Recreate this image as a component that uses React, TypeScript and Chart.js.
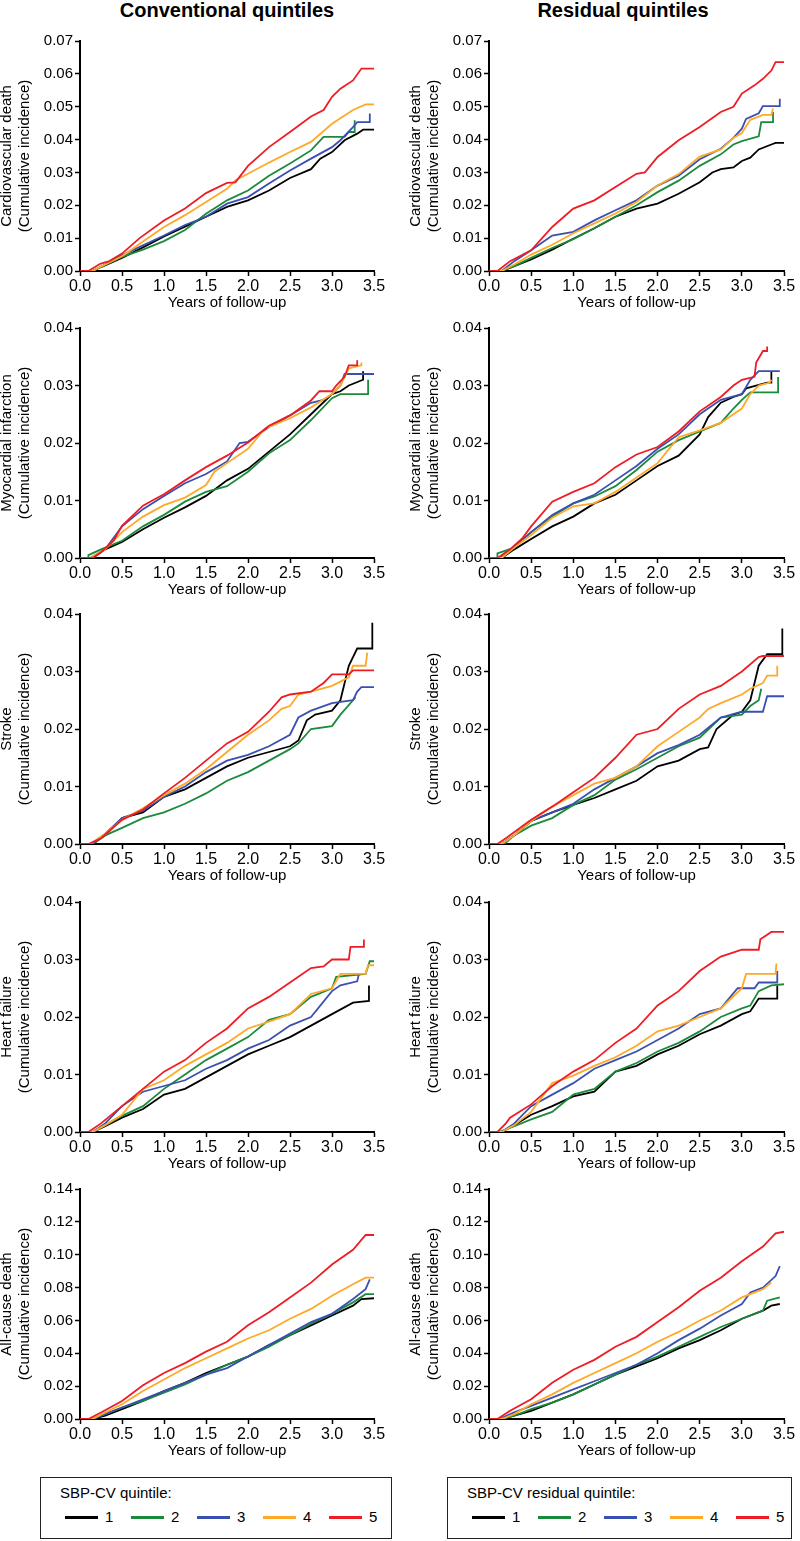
import React, { useEffect, useRef } from "react";
import { Chart, registerables } from "chart.js";
Chart.register(...registerables);

type Pt = [number, number];

// ---------- labels / ticks ----------
const QUINTILES = ["1", "2", "3", "4", "5"];
const COLORS = ["#000000", "#1b8a3a", "#3a50b0", "#ffa928", "#ee1c25"];
const X_TICKS = [0, 0.5, 1.0, 1.5, 2.0, 2.5, 3.0, 3.5];
const Y_TICKS_07 = [0, 0.01, 0.02, 0.03, 0.04, 0.05, 0.06, 0.07];
const Y_TICKS_04 = [0, 0.01, 0.02, 0.03, 0.04];
const Y_TICKS_14 = [0, 0.02, 0.04, 0.06, 0.08, 0.1, 0.12, 0.14];
const X_TITLE = "Years of follow-up";
const COL_TITLES = ["Conventional quintiles", "Residual quintiles"];
const LEGEND_TITLES = ["SBP-CV quintile:", "SBP-CV residual quintile:"];
const Y_LABELS = [
  ["Cardiovascular death", "(Cumulative incidence)"],
  ["Myocardial infarction", "(Cumulative incidence)"],
  ["Stroke", "(Cumulative incidence)"],
  ["Heart failure", "(Cumulative incidence)"],
  ["All-cause death", "(Cumulative incidence)"],
];

// ---------- data: [years, cumulative incidence], quintiles 1..5 ----------
const cvdConv: Pt[][] = [
  [[0,0],[0.15,0],[0.25,0.0012],[0.5,0.004],[0.75,0.0072],[1.0,0.0105],[1.25,0.0135],[1.5,0.0165],[1.75,0.0195],[2.0,0.0215],[2.25,0.0245],[2.5,0.0283],[2.75,0.031],[2.86,0.0342],[3.0,0.0362],[3.15,0.0398],[3.3,0.0418],[3.37,0.043],[3.5,0.043]],
  [[0,0],[0.15,0],[0.25,0.0012],[0.5,0.0043],[0.75,0.0065],[1.0,0.0091],[1.25,0.0125],[1.5,0.0174],[1.75,0.0215],[2.0,0.0245],[2.25,0.029],[2.5,0.0327],[2.75,0.0367],[2.9,0.0408],[3.15,0.0408],[3.2,0.0423],[3.27,0.0423],[3.27,0.0459]],
  [[0,0],[0.15,0],[0.3,0.002],[0.5,0.0048],[0.75,0.0078],[1.0,0.0108],[1.25,0.014],[1.5,0.0165],[1.75,0.0205],[2.0,0.0225],[2.25,0.0266],[2.5,0.0306],[2.75,0.0342],[3.0,0.0377],[3.1,0.0398],[3.25,0.0438],[3.3,0.0453],[3.45,0.0453],[3.45,0.0479]],
  [[0,0],[0.15,0],[0.3,0.002],[0.5,0.0045],[0.75,0.009],[1.0,0.0134],[1.25,0.017],[1.5,0.021],[1.75,0.025],[1.85,0.0276],[2.0,0.0296],[2.25,0.033],[2.5,0.0362],[2.75,0.0393],[3.0,0.0448],[3.25,0.049],[3.4,0.0507],[3.5,0.0507]],
  [[0,0],[0.1,0],[0.24,0.0022],[0.35,0.003],[0.5,0.0053],[0.71,0.01],[1.0,0.0154],[1.25,0.019],[1.5,0.0237],[1.75,0.0268],[1.85,0.027],[2.0,0.032],[2.25,0.0377],[2.5,0.0423],[2.75,0.047],[2.9,0.049],[3.0,0.053],[3.1,0.0555],[3.25,0.058],[3.35,0.0616],[3.5,0.0616]],
];
const cvdResid: Pt[][] = [
  [[0,0],[0.15,0],[0.3,0.0015],[0.5,0.0035],[0.75,0.0065],[1.0,0.0098],[1.25,0.013],[1.5,0.0165],[1.75,0.019],[2.0,0.0205],[2.25,0.0235],[2.5,0.027],[2.65,0.03],[2.75,0.031],[2.9,0.0315],[3.0,0.0335],[3.1,0.0345],[3.2,0.037],[3.35,0.0385],[3.4,0.039],[3.5,0.039]],
  [[0,0],[0.15,0],[0.3,0.0015],[0.5,0.004],[0.75,0.007],[1.0,0.0097],[1.25,0.013],[1.5,0.0165],[1.75,0.02],[2.0,0.024],[2.25,0.0275],[2.5,0.032],[2.75,0.0355],[2.9,0.0385],[3.0,0.0395],[3.2,0.041],[3.23,0.0453],[3.37,0.0453],[3.37,0.0484]],
  [[0,0],[0.15,0],[0.3,0.003],[0.5,0.0063],[0.75,0.0108],[1.0,0.0119],[1.25,0.0154],[1.5,0.0185],[1.75,0.0215],[2.0,0.026],[2.25,0.029],[2.5,0.034],[2.75,0.0372],[2.9,0.0405],[3.0,0.0433],[3.05,0.0463],[3.2,0.048],[3.25,0.0502],[3.45,0.0502],[3.45,0.0524]],
  [[0,0],[0.15,0],[0.3,0.002],[0.5,0.005],[0.75,0.008],[1.0,0.0115],[1.25,0.0145],[1.5,0.0175],[1.75,0.021],[2.0,0.026],[2.25,0.0295],[2.5,0.0348],[2.75,0.037],[2.9,0.0405],[3.0,0.042],[3.1,0.046],[3.25,0.0475],[3.35,0.0475],[3.37,0.0495]],
  [[0,0],[0.1,0],[0.25,0.003],[0.5,0.0063],[0.75,0.0134],[1.0,0.019],[1.25,0.0215],[1.5,0.0256],[1.75,0.0296],[1.85,0.03],[2.0,0.0347],[2.25,0.0398],[2.5,0.0438],[2.75,0.0484],[2.9,0.05],[3.0,0.054],[3.15,0.0565],[3.25,0.0585],[3.35,0.061],[3.4,0.0636],[3.5,0.0636]],
];
const miConv: Pt[][] = [
  [[0,0],[0.15,0],[0.3,0.0015],[0.5,0.0028],[0.75,0.005],[1.0,0.007],[1.25,0.0088],[1.5,0.0108],[1.75,0.0135],[2.0,0.0155],[2.25,0.0185],[2.5,0.0215],[2.75,0.025],[3.0,0.0285],[3.1,0.029],[3.2,0.03],[3.37,0.031],[3.37,0.0325]],
  [[0,0],[0.1,0],[0.1,0.0005],[0.25,0.0015],[0.5,0.003],[0.75,0.0055],[1.0,0.0075],[1.25,0.0098],[1.5,0.0115],[1.75,0.0125],[2.0,0.015],[2.25,0.0182],[2.5,0.0205],[2.75,0.024],[3.0,0.0278],[3.1,0.0285],[3.43,0.0285],[3.43,0.031]],
  [[0,0],[0.12,0],[0.3,0.0015],[0.5,0.0055],[0.75,0.0085],[1.0,0.0108],[1.25,0.013],[1.5,0.0146],[1.75,0.0168],[1.9,0.02],[2.0,0.0202],[2.25,0.0228],[2.5,0.0248],[2.75,0.027],[2.9,0.0275],[3.0,0.0285],[3.1,0.03],[3.15,0.032],[3.5,0.032]],
  [[0,0],[0.12,0],[0.3,0.0015],[0.5,0.0045],[0.75,0.0072],[1.0,0.0092],[1.25,0.0105],[1.5,0.0127],[1.6,0.015],[1.75,0.0165],[2.0,0.019],[2.2,0.0225],[2.5,0.0243],[2.75,0.0262],[3.0,0.0285],[3.1,0.03],[3.2,0.033],[3.35,0.0335],[3.35,0.034]],
  [[0,0],[0.15,0],[0.25,0.001],[0.4,0.003],[0.5,0.0056],[0.75,0.0091],[0.85,0.0099],[1.0,0.0111],[1.25,0.0135],[1.5,0.0158],[1.75,0.0178],[2.0,0.0201],[2.25,0.023],[2.5,0.0248],[2.75,0.0274],[2.85,0.029],[3.0,0.029],[3.05,0.03],[3.15,0.0315],[3.2,0.0335],[3.3,0.0335],[3.3,0.0344]],
];
const miResid: Pt[][] = [
  [[0,0],[0.15,0],[0.3,0.0015],[0.5,0.0033],[0.75,0.0055],[1.0,0.0072],[1.25,0.0095],[1.5,0.011],[1.75,0.0135],[2.0,0.016],[2.25,0.0178],[2.5,0.0215],[2.6,0.0245],[2.75,0.027],[2.9,0.028],[3.0,0.0285],[3.05,0.0295],[3.3,0.0305],[3.35,0.0305],[3.35,0.0325]],
  [[0,0],[0.1,0],[0.1,0.0008],[0.3,0.0018],[0.5,0.0045],[0.75,0.0072],[1.0,0.0095],[1.25,0.0107],[1.5,0.0125],[1.75,0.0153],[2.0,0.0185],[2.25,0.0205],[2.5,0.022],[2.75,0.0235],[2.9,0.026],[3.0,0.0275],[3.1,0.0288],[3.43,0.0288],[3.43,0.0315]],
  [[0,0],[0.12,0],[0.3,0.002],[0.5,0.0045],[0.75,0.0075],[1.0,0.0095],[1.25,0.011],[1.5,0.0135],[1.75,0.016],[2.0,0.019],[2.25,0.0215],[2.5,0.025],[2.75,0.0275],[3.0,0.0285],[3.1,0.031],[3.2,0.0325],[3.45,0.0325]],
  [[0,0],[0.15,0],[0.3,0.0018],[0.5,0.004],[0.75,0.007],[1.0,0.009],[1.25,0.0095],[1.5,0.0115],[1.75,0.014],[2.0,0.0165],[2.25,0.021],[2.5,0.0222],[2.75,0.0235],[2.9,0.025],[3.0,0.026],[3.1,0.0285],[3.2,0.03],[3.33,0.0305],[3.35,0.031]],
  [[0,0],[0.1,0],[0.25,0.0015],[0.4,0.0035],[0.5,0.0055],[0.75,0.0098],[1.0,0.0115],[1.25,0.013],[1.5,0.0158],[1.75,0.018],[2.0,0.0193],[2.25,0.022],[2.5,0.0255],[2.75,0.028],[2.9,0.03],[3.0,0.031],[3.15,0.0315],[3.17,0.034],[3.25,0.036],[3.3,0.036],[3.3,0.0368]],
];
const strokeConv: Pt[][] = [
  [[0,0],[0.15,0],[0.3,0.0015],[0.5,0.0045],[0.75,0.0055],[1.0,0.0082],[1.25,0.0095],[1.5,0.0115],[1.75,0.0135],[2.0,0.015],[2.25,0.016],[2.5,0.017],[2.6,0.018],[2.7,0.0215],[2.8,0.0225],[3.0,0.0232],[3.1,0.025],[3.2,0.031],[3.25,0.0325],[3.3,0.034],[3.48,0.034],[3.48,0.0385]],
  [[0,0],[0.15,0],[0.3,0.0015],[0.5,0.0028],[0.75,0.0045],[1.0,0.0055],[1.25,0.007],[1.5,0.0088],[1.75,0.011],[2.0,0.0125],[2.25,0.0145],[2.5,0.0165],[2.6,0.0175],[2.75,0.02],[3.0,0.0205],[3.1,0.0225],[3.25,0.025],[3.28,0.0255]],
  [[0,0],[0.15,0],[0.3,0.0018],[0.5,0.0045],[0.75,0.0058],[1.0,0.0082],[1.25,0.01],[1.5,0.0125],[1.75,0.0145],[2.0,0.0155],[2.25,0.017],[2.5,0.019],[2.6,0.022],[2.75,0.0232],[3.0,0.0245],[3.25,0.025],[3.3,0.0265],[3.35,0.0273],[3.5,0.0273]],
  [[0,0],[0.12,0],[0.3,0.0018],[0.5,0.0042],[0.75,0.0062],[1.0,0.0085],[1.25,0.0105],[1.5,0.013],[1.75,0.016],[2.0,0.019],[2.25,0.0215],[2.4,0.0235],[2.5,0.024],[2.6,0.026],[2.75,0.0265],[3.0,0.0275],[3.2,0.029],[3.25,0.031],[3.4,0.031],[3.42,0.0333]],
  [[0,0],[0.1,0],[0.25,0.001],[0.5,0.0042],[0.75,0.006],[1.0,0.0088],[1.25,0.0115],[1.5,0.0145],[1.75,0.0175],[2.0,0.0195],[2.25,0.023],[2.4,0.0255],[2.5,0.026],[2.75,0.0265],[2.9,0.028],[3.0,0.0295],[3.2,0.0295],[3.25,0.0302],[3.5,0.0302]],
];
const strokeResid: Pt[][] = [
  [[0,0],[0.15,0],[0.3,0.0015],[0.5,0.004],[0.75,0.0055],[1.0,0.0068],[1.25,0.008],[1.5,0.0095],[1.75,0.011],[2.0,0.0135],[2.25,0.0145],[2.5,0.0165],[2.6,0.0168],[2.7,0.02],[2.9,0.0225],[3.0,0.023],[3.1,0.025],[3.2,0.031],[3.3,0.033],[3.48,0.033],[3.48,0.0375]],
  [[0,0],[0.18,0],[0.3,0.0015],[0.5,0.0032],[0.75,0.0045],[1.0,0.0068],[1.25,0.0085],[1.5,0.0112],[1.75,0.013],[2.0,0.015],[2.25,0.017],[2.5,0.0185],[2.75,0.022],[3.0,0.0225],[3.1,0.024],[3.2,0.025],[3.23,0.027]],
  [[0,0],[0.15,0],[0.3,0.0015],[0.5,0.004],[0.75,0.0055],[1.0,0.007],[1.25,0.0095],[1.5,0.0115],[1.75,0.0135],[2.0,0.0158],[2.25,0.0172],[2.5,0.019],[2.75,0.022],[3.0,0.023],[3.25,0.023],[3.3,0.0257],[3.5,0.0257]],
  [[0,0],[0.15,0],[0.3,0.0015],[0.5,0.004],[0.75,0.0065],[1.0,0.0085],[1.25,0.0105],[1.5,0.0115],[1.75,0.0135],[2.0,0.017],[2.25,0.0195],[2.5,0.022],[2.6,0.0235],[2.75,0.0245],[3.0,0.026],[3.1,0.027],[3.25,0.028],[3.3,0.0293],[3.42,0.0293],[3.42,0.031]],
  [[0,0],[0.1,0],[0.2,0.001],[0.5,0.0042],[0.75,0.0065],[1.0,0.009],[1.25,0.0115],[1.5,0.015],[1.75,0.019],[2.0,0.02],[2.25,0.0235],[2.5,0.026],[2.75,0.0275],[3.0,0.03],[3.2,0.0325],[3.25,0.0327],[3.5,0.0327]],
];
const hfConv: Pt[][] = [
  [[0,0],[0.15,0],[0.3,0.001],[0.5,0.0025],[0.75,0.004],[1.0,0.0065],[1.25,0.0075],[1.5,0.0095],[1.75,0.0115],[2.0,0.0135],[2.25,0.015],[2.5,0.0165],[2.75,0.0185],[3.0,0.0205],[3.25,0.0225],[3.44,0.0228],[3.44,0.0255]],
  [[0,0],[0.15,0],[0.3,0.0012],[0.5,0.0028],[0.75,0.0045],[1.0,0.0075],[1.25,0.01],[1.5,0.0125],[1.75,0.0145],[2.0,0.0165],[2.25,0.0195],[2.5,0.0205],[2.75,0.0235],[3.0,0.025],[3.05,0.027],[3.4,0.0275],[3.45,0.0297],[3.5,0.0297]],
  [[0,0],[0.15,0],[0.3,0.0015],[0.5,0.0045],[0.75,0.007],[1.0,0.008],[1.25,0.009],[1.5,0.011],[1.75,0.0125],[2.0,0.0145],[2.25,0.016],[2.5,0.0185],[2.75,0.02],[3.0,0.0245],[3.1,0.0255],[3.3,0.0262],[3.32,0.0275]],
  [[0,0],[0.15,0],[0.3,0.0012],[0.5,0.003],[0.75,0.0075],[1.0,0.009],[1.25,0.0115],[1.5,0.0135],[1.75,0.0155],[2.0,0.018],[2.25,0.0192],[2.5,0.0205],[2.75,0.024],[3.0,0.025],[3.1,0.0275],[3.4,0.0275],[3.43,0.029],[3.5,0.029]],
  [[0,0],[0.1,0],[0.25,0.0015],[0.5,0.0045],[0.75,0.0075],[1.0,0.0105],[1.25,0.0125],[1.5,0.0155],[1.75,0.018],[2.0,0.0215],[2.25,0.0235],[2.5,0.026],[2.75,0.0285],[2.9,0.0288],[3.0,0.03],[3.2,0.03],[3.22,0.0322],[3.38,0.0322],[3.38,0.0335]],
];
const hfResid: Pt[][] = [
  [[0,0],[0.15,0],[0.3,0.0012],[0.5,0.003],[0.75,0.0045],[1.0,0.0062],[1.25,0.007],[1.5,0.0105],[1.75,0.0115],[2.0,0.0135],[2.25,0.015],[2.5,0.017],[2.75,0.0185],[3.0,0.0205],[3.1,0.021],[3.2,0.0232],[3.42,0.0232],[3.42,0.0255]],
  [[0,0],[0.12,0],[0.3,0.001],[0.5,0.0022],[0.75,0.0035],[1.0,0.0065],[1.25,0.0075],[1.5,0.0105],[1.75,0.012],[2.0,0.014],[2.25,0.0155],[2.5,0.0175],[2.75,0.02],[3.0,0.0215],[3.1,0.022],[3.2,0.0245],[3.35,0.0255],[3.5,0.0257]],
  [[0,0],[0.15,0],[0.3,0.0015],[0.5,0.0045],[0.75,0.0065],[1.0,0.0085],[1.25,0.011],[1.5,0.0125],[1.75,0.014],[2.0,0.016],[2.25,0.018],[2.5,0.0205],[2.75,0.0215],[2.95,0.025],[3.15,0.025],[3.2,0.026],[3.42,0.026],[3.42,0.028]],
  [[0,0],[0.15,0],[0.3,0.0012],[0.5,0.0035],[0.75,0.0085],[1.0,0.0098],[1.25,0.0115],[1.5,0.013],[1.75,0.015],[2.0,0.0175],[2.25,0.0185],[2.5,0.02],[2.75,0.0215],[3.0,0.025],[3.05,0.0275],[3.4,0.0275],[3.41,0.0293]],
  [[0,0],[0.1,0],[0.2,0.0015],[0.25,0.0025],[0.5,0.0048],[0.75,0.008],[1.0,0.0105],[1.25,0.0125],[1.5,0.0155],[1.75,0.018],[2.0,0.022],[2.25,0.0245],[2.5,0.028],[2.75,0.0305],[3.0,0.0317],[3.2,0.0317],[3.22,0.0335],[3.35,0.0348],[3.5,0.0348]],
];
const acdConv: Pt[][] = [
  [[0,0],[0.15,0],[0.3,0.002],[0.5,0.006],[0.75,0.011],[1.0,0.017],[1.25,0.022],[1.5,0.028],[1.75,0.033],[2.0,0.038],[2.25,0.045],[2.5,0.051],[2.75,0.057],[3.0,0.063],[3.25,0.069],[3.35,0.073],[3.5,0.0735]],
  [[0,0],[0.15,0],[0.3,0.003],[0.5,0.007],[0.75,0.011],[1.0,0.016],[1.25,0.021],[1.5,0.027],[1.75,0.033],[2.0,0.038],[2.25,0.044],[2.5,0.051],[2.75,0.058],[3.0,0.064],[3.25,0.071],[3.4,0.076],[3.5,0.076]],
  [[0,0],[0.15,0],[0.3,0.003],[0.5,0.007],[0.75,0.012],[1.0,0.017],[1.25,0.022],[1.5,0.027],[1.75,0.031],[2.0,0.038],[2.25,0.045],[2.5,0.052],[2.75,0.059],[3.0,0.064],[3.25,0.073],[3.4,0.079],[3.45,0.085]],
  [[0,0],[0.15,0],[0.3,0.004],[0.5,0.009],[0.75,0.017],[1.0,0.024],[1.25,0.031],[1.5,0.037],[1.75,0.043],[2.0,0.049],[2.25,0.054],[2.5,0.061],[2.75,0.067],[3.0,0.075],[3.25,0.082],[3.4,0.086],[3.5,0.086]],
  [[0,0],[0.1,0],[0.25,0.004],[0.5,0.011],[0.75,0.0205],[1.0,0.028],[1.25,0.034],[1.5,0.041],[1.75,0.047],[2.0,0.057],[2.25,0.065],[2.5,0.074],[2.75,0.083],[3.0,0.094],[3.25,0.103],[3.4,0.112],[3.5,0.112]],
];
const acdResid: Pt[][] = [
  [[0,0],[0.15,0],[0.3,0.002],[0.5,0.005],[0.75,0.01],[1.0,0.015],[1.25,0.021],[1.5,0.027],[1.75,0.032],[2.0,0.037],[2.25,0.043],[2.5,0.048],[2.75,0.054],[3.0,0.061],[3.25,0.066],[3.35,0.069],[3.45,0.07]],
  [[0,0],[0.15,0],[0.3,0.002],[0.5,0.006],[0.75,0.01],[1.0,0.015],[1.25,0.021],[1.5,0.027],[1.75,0.033],[2.0,0.038],[2.25,0.044],[2.5,0.05],[2.75,0.056],[3.0,0.061],[3.25,0.066],[3.3,0.072],[3.45,0.074]],
  [[0,0],[0.12,0],[0.3,0.004],[0.5,0.008],[0.75,0.013],[1.0,0.018],[1.25,0.023],[1.5,0.028],[1.75,0.033],[2.0,0.04],[2.25,0.048],[2.5,0.055],[2.75,0.063],[3.0,0.07],[3.1,0.077],[3.25,0.08],[3.4,0.087],[3.45,0.093]],
  [[0,0],[0.15,0],[0.3,0.003],[0.5,0.009],[0.75,0.015],[1.0,0.022],[1.25,0.028],[1.5,0.034],[1.75,0.04],[2.0,0.047],[2.25,0.053],[2.5,0.06],[2.75,0.066],[3.0,0.074],[3.25,0.079],[3.35,0.083]],
  [[0,0],[0.1,0],[0.25,0.005],[0.5,0.012],[0.75,0.022],[1.0,0.03],[1.25,0.036],[1.5,0.044],[1.75,0.05],[2.0,0.059],[2.25,0.068],[2.5,0.078],[2.75,0.086],[3.0,0.096],[3.25,0.105],[3.4,0.113],[3.5,0.114]],
];

const ROWS = [
  { conv: cvdConv, resid: cvdResid, yTicks: Y_TICKS_07, label: Y_LABELS[0] },
  { conv: miConv, resid: miResid, yTicks: Y_TICKS_04, label: Y_LABELS[1] },
  { conv: strokeConv, resid: strokeResid, yTicks: Y_TICKS_04, label: Y_LABELS[2] },
  { conv: hfConv, resid: hfResid, yTicks: Y_TICKS_04, label: Y_LABELS[3] },
  { conv: acdConv, resid: acdResid, yTicks: Y_TICKS_14, label: Y_LABELS[4] },
];

// ---------- layout ----------
const FONT = '"Liberation Sans", Arial, Helvetica, sans-serif';
const NARROW = '"Liberation Sans Narrow", "Liberation Sans", Arial, sans-serif';
const CHART_TOPS = [41, 328, 614, 902, 1189];
const PLOT_H = 230;
const TOP_PAD = 12;
const X_AXIS_H = 41;
const CANVAS_H = TOP_PAD + PLOT_H + X_AXIS_H;

function Panel({ series, yTicks, ylabel, col, row }: { series: Pt[][]; yTicks: number[]; ylabel: string[]; col: number; row: number }) {
  const ref = useRef<HTMLCanvasElement | null>(null);
  useEffect(() => {
    const chartLeft = col === 0 ? 80 : 89;
    const padRight = col === 0 ? 26 : 16;
    const ymax = yTicks[yTicks.length - 1];
    const chart = new Chart(ref.current as HTMLCanvasElement, {
      type: "line",
      data: {
        datasets: series.map((s, i) => ({
          label: QUINTILES[i],
          data: s.map(([x, y]) => ({ x, y })),
          borderColor: COLORS[i],
          backgroundColor: COLORS[i],
          borderWidth: 1.8,
          pointRadius: 0,
          tension: 0,
          fill: false,
          order: 4 - i,
        })),
      },
      options: {
        animation: false,
        responsive: false,
        devicePixelRatio: 1,
        events: [],
        layout: { padding: { top: TOP_PAD, right: padRight, left: 0, bottom: 0 } },
        plugins: { legend: { display: false }, tooltip: { enabled: false } },
        scales: {
          x: {
            type: "linear",
            min: 0,
            max: 3.5,
            afterBuildTicks: (s: any) => {
              s.ticks = X_TICKS.map((v) => ({ value: v }));
            },
            afterFit: (s: any) => {
              s.height = X_AXIS_H;
            },
            ticks: {
              callback: (v: any) => Number(v).toFixed(1),
              font: { family: NARROW, size: 16 },
              color: "#000",
              padding: 1,
              maxRotation: 0,
              autoSkip: false,
            },
            grid: { display: true, drawOnChartArea: false, drawTicks: true, tickLength: 5, tickWidth: 1.5, tickColor: "#000" },
            border: { display: true, color: "#000", width: 2 },
            title: { display: true, text: X_TITLE, font: { family: FONT, size: 15 }, color: "#000", padding: 0 },
          },
          y: {
            type: "linear",
            min: 0,
            max: ymax,
            afterBuildTicks: (s: any) => {
              s.ticks = yTicks.map((v) => ({ value: v }));
            },
            afterFit: (s: any) => {
              s.width = chartLeft;
            },
            ticks: {
              callback: (v: any) => Number(v).toFixed(2),
              font: { family: FONT, size: 15 },
              color: "#000",
              padding: 2,
              autoSkip: false,
            },
            grid: { display: true, drawOnChartArea: false, drawTicks: true, tickLength: 5, tickWidth: 1.5, tickColor: "#000" },
            border: { display: true, color: "#000", width: 2 },
            title: {
              display: true,
              text: ylabel,
              font: { family: FONT, size: 15, lineHeight: 1.2 },
              color: "#000",
              padding: { top: col === 0 ? -2 : 7, bottom: 0 },
            },
          },
        },
      },
    } as any);
    return () => chart.destroy();
  }, []);
  return (
    <canvas
      ref={ref}
      width={400}
      height={CANVAS_H}
      style={{ position: "absolute", left: col * 400, top: CHART_TOPS[row] - TOP_PAD, width: 400, height: CANVAS_H }}
    />
  );
}

function Legend({ left, width, title }: { left: number; width: number; title: string }) {
  return (
    <div
      style={{
        position: "absolute",
        left,
        top: 1477,
        width,
        height: 62,
        boxSizing: "border-box",
        border: "1.5px solid #222",
        fontFamily: FONT,
        fontSize: 15,
        color: "#000",
      }}
    >
      <div style={{ position: "absolute", left: 19, top: 6, lineHeight: "18px", whiteSpace: "nowrap" }}>{title}</div>
      {QUINTILES.map((q, i) => (
        <div key={q} style={{ position: "absolute", left: 24 + i * 66, top: 30, height: 18, display: "flex", alignItems: "center" }}>
          <div style={{ width: 33, height: 3, background: COLORS[i] }} />
          <div style={{ marginLeft: 7, lineHeight: "18px" }}>{q}</div>
        </div>
      ))}
    </div>
  );
}

export default function App() {
  return (
    <div style={{ position: "absolute", left: 0, top: 0, width: 800, height: 1541, background: "#fff", overflow: "hidden" }}>
      <div style={{ position: "absolute", left: 0, top: 0, width: 454, textAlign: "center", fontFamily: FONT, fontWeight: "bold", fontSize: 20, lineHeight: "20px" }}>
        {COL_TITLES[0]}
      </div>
      <div style={{ position: "absolute", left: 400, top: 0, width: 446, textAlign: "center", fontFamily: FONT, fontWeight: "bold", fontSize: 20, lineHeight: "20px" }}>
        {COL_TITLES[1]}
      </div>
      {ROWS.map((r, ri) => (
        <React.Fragment key={ri}>
          <Panel series={r.conv} yTicks={r.yTicks} ylabel={r.label} col={0} row={ri} />
          <Panel series={r.resid} yTicks={r.yTicks} ylabel={r.label} col={1} row={ri} />
        </React.Fragment>
      ))}
      <Legend left={40} width={352} title={LEGEND_TITLES[0]} />
      <Legend left={447} width={345} title={LEGEND_TITLES[1]} />
    </div>
  );
}
